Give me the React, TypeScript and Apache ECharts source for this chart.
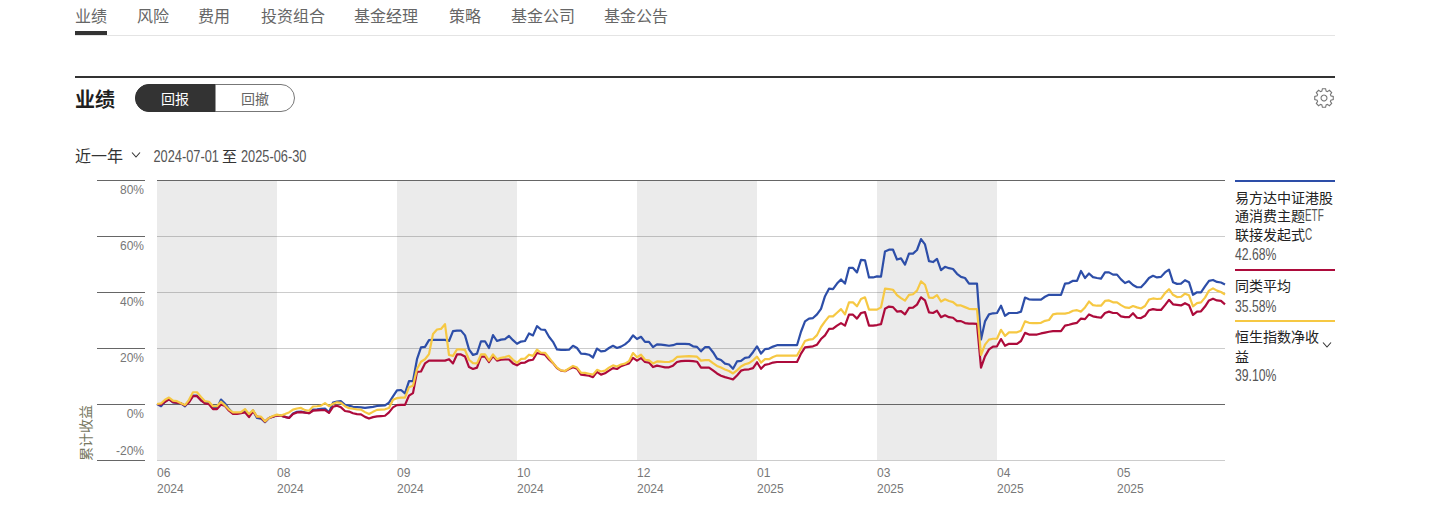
import React, { useEffect, useRef } from "react";
import * as echarts from "echarts";

const navItems = ["业绩", "风险", "费用", "投资组合", "基金经理", "策略", "基金公司", "基金公告"];
const navX = [75, 137, 198, 261, 354, 449, 511, 604];
const monthLabels = ["06", "08", "09", "10", "12", "01", "03", "04", "05"];
const yearLabels = ["2024", "2024", "2024", "2024", "2024", "2025", "2025", "2025", "2025"];
const yTicks = { min: -20, max: 80, interval: 20 };
const bandStarts = [0, 60, 120, 180];
const BAND_LEN = 30;

const fundName = "易方达中证港股通消费主题ETF联接发起式C";
const peerName = "同类平均";
const indexName = "恒生指数净收益";

const fundValues = [
  0,-0.8,0.8,1.8,0.6,0.4,0.2,-0.8,1,3,
  3,1.3,0.5,0.3,-1.5,-1.5,1.6,0.2,-1.8,-3.3,
  -3.3,-3.2,-2.5,-4,-2.3,-5,-5.2,-6.5,-5,-4.5,
  -4,-4.2,-4.6,-5,-3.4,-2.8,-2.7,-3,-3.3,-2,
  -1.9,-1.7,-1.6,-3,0.5,0.9,1,-0.3,-0.6,-1,
  -1.1,-1.2,-1.4,-1.2,-1,-0.7,-0.6,-0.5,0.5,2.7,
  4.9,5,3.8,8.2,8.2,16,20.2,20.4,22.8,22.9,
  22.9,22.9,22.9,22.5,26,26.2,26.2,24.5,19.5,17.5,
  18,22.4,22.4,20,24.6,22.5,23,23.2,24.3,22.8,
  21.5,22.3,22.5,25.2,24.5,27.8,26.6,26.5,24,22.2,
  19.5,19.3,19.3,19.4,20.8,20,18,17.9,17.6,16.6,
  19.8,18.8,19,20,20.8,20,20.5,21.3,22.5,24.5,
  23.2,24,22.2,22.2,20.3,21.3,21.2,21,20.8,21,
  21.5,21.5,21.5,21.4,20.6,20.4,18.8,20.3,20.3,18.5,
  16.2,15.7,14.4,14.1,12.6,15.2,15.4,16.5,16.7,18.5,
  20.6,18,19.6,19.8,20.5,21,21,21,21,21,
  21,25.8,29.5,30.5,30.7,32,34,38.5,41.2,41,
  43,44.5,43,48.6,48.6,47,51.5,51.3,45.2,45.2,
  45.6,45.5,54.5,55.1,55.1,51.6,52,49.8,53.7,53.7,
  55,58.9,57,51,50.7,51.8,47.8,49,48.5,48.2,
  46.5,45.4,45,43,43,43,23,29.5,32,32.4,
  32.5,35.1,31.5,32.5,32.5,32.5,33,38,37.4,37.3,
  37.3,37.3,38.3,39,39,39,39,43,43.2,44,
  44,47.5,45,46.6,45.3,45,44.8,47,47,46.2,
  46.2,44.5,43.2,43.8,42.5,41.7,41.7,43.2,45,45.8,
  45.2,45.4,47,48,43.5,42.9,43,44.2,43.5,39,
  39.9,39.9,42,44,44.3,43.6,43.4,42.68,
];

const peerValues = [
  0,-0.2,0.8,1.7,0.7,0.5,0.2,-0.5,0.6,2.8,
  2.8,1.3,0.2,-0.1,-1.8,-1.8,-0.2,-0.7,-2.4,-3.5,
  -3.5,-3.3,-3,-4.7,-2.6,-4.5,-4.8,-6.3,-5,-4.5,
  -4.1,-4.2,-4.6,-5,-3.6,-3,-2.9,-3.1,-3.3,-2.4,
  -2.3,-2.2,-2.2,-3.2,-1,-0.6,-1.2,-2.5,-2.7,-3.3,
  -3.6,-3.7,-4.6,-5.2,-4.7,-4.4,-4.3,-4.2,-3,-1.2,
  -0.4,-0.3,-0.3,3,3.9,11.5,11.6,14.5,15.5,15.5,
  15.5,15.5,15.5,16,14.5,17.7,17.7,17,13.2,12.5,
  13,16.9,16.9,15,17.1,15.5,15.8,15.9,15.9,14.5,
  13.8,14.7,14.8,15.6,15.8,18.2,17.9,17.6,15.9,14.6,
  12.8,11.9,11.7,12.5,13.1,12.6,10.5,10.3,10.1,9.6,
  11.5,10.5,11,11.9,12.8,12.5,13.5,14,14.5,16.5,
  15.5,16.4,15,14.8,13.2,13.7,13.4,13.1,13.1,13.7,
  15,15.3,15.4,15.4,15.3,15.1,13,13,13,12,
  10.9,10.1,9.6,9.2,8.8,10.2,11.9,12.3,12.4,12.8,
  14.9,12.6,14,14.3,14.8,15,15,15,15,15,
  15,18,20.2,20.4,20.6,21.2,23.2,24.5,26.8,26.9,
  28,28.9,28,31.9,31.9,30.5,32.5,32.8,28,28,
  28.2,28.5,34,34.8,34.6,33,33.2,32,34.3,34.4,
  35.5,38.1,37,32.7,32.5,33.3,31,31.7,31,30.8,
  29.6,29.6,28.9,28.7,28.7,28.6,13,17,19.5,20.5,
  20.6,23.2,20.8,21.5,21.5,21.5,22.5,25.4,24.8,24.8,
  24.8,25.2,25.5,25.8,26,26,26,28,28.3,28.7,
  29,30.5,30.3,32,31.3,31,30.8,32.5,33,32.5,
  32.5,31.3,31,31,32.4,30.8,30.7,31.5,33.5,33.9,
  33.6,33.6,35.3,37.2,35.6,35.4,35.2,36,35.3,31.8,
  33,33.1,34.8,37,37.6,37,36.8,35.58,
];

const indexValues = [
  0,0.2,1.5,2.3,1.2,1,0.3,-0.4,1.5,4.2,
  4.2,2.5,1,0.8,-0.8,-0.8,0.8,-0.5,-2,-3,
  -3,-2.9,-1.8,-3.6,-2.2,-4.5,-4.5,-6.2,-5,-4.3,
  -3.8,-4.1,-3.6,-3,-2,-1.6,-1.4,-2.2,-2.4,-0.9,
  -0.8,-0.6,0.3,-0.8,0.1,0.6,0.4,-0.8,-1.5,-1.7,
  -1.9,-2,-2.9,-3.6,-2.8,-2.1,-2,-1.9,-1.4,1.5,
  2.1,2.3,2.3,6,6.5,12.5,15.1,16,17.8,25,
  26.6,26.8,28.5,17.5,17.2,19.5,19.5,19.3,15.8,14.6,
  14.5,17.7,17.7,15.5,17.7,16,16.5,16.8,17.2,15.8,
  14.7,16.1,16.2,17.6,17.2,19.4,18.3,18.3,16.5,14.7,
  13,12,11.8,12.7,13.6,13,11.2,11.1,10.8,10.5,
  12.2,11.6,11.9,13,13.8,13.4,14.1,14.4,15.3,18.2,
  16.7,17.6,15.8,15.6,14.5,15.2,15.1,15,15,15.5,
  16.8,16.9,17,17.1,17,16.9,15.5,15.7,15.7,14.6,
  13.6,13,12.3,11.8,10.9,12,13.4,14.2,14.6,15.6,
  16.9,14.8,16,16,16.8,17.3,17.3,17.3,17.3,17.3,
  17.3,19.8,22.5,23,23.2,24.6,27.5,29.5,31.3,31.3,
  32.6,33.9,32,36.3,36.3,34.9,37.5,38.1,33.7,33.7,
  33.7,34.5,41.2,41,40.8,38.9,37.8,36.9,39,39.2,
  40.5,43.8,42.6,38,37.9,38.9,36.6,37.4,36.8,36.4,
  35.2,35.2,34.6,34,33.9,33.9,17.5,21.2,23,23.3,
  23.3,26.5,24.3,25.6,25.6,25.6,26.2,29.5,29,28.9,
  28.9,29,29.7,30,32,32.3,32.3,32.3,32.6,33.3,
  33.5,33,34.5,36.6,35.3,35.1,35.1,36.8,37,36.3,
  36.3,35.3,34.5,34.3,35,34.5,34.1,35,37.3,37.7,
  37.5,37.6,39.6,41,39,38.2,38.3,39.4,38.8,34.9,
  36,36.3,38,40.5,41.3,40.5,40,39.1,
];

const BLUE = "#2d4ea8";
const RED = "#ad0b3b";
const YELLOW = "#f6c843";
const LATIN = '"Liberation Sans", sans-serif';
const CJK = '"Noto Sans CJK SC", sans-serif';

function gearPath() {
  const cx = 10, cy = 10, teeth = 8;
  let d = "";
  for (let k = 0; k < teeth; k++) {
    const a = (k * 2 * Math.PI) / teeth;
    const pts: [number, number][] = [[7.2, -0.3], [9.4, -0.17], [9.4, 0.17], [7.2, 0.3]];
    pts.forEach(([r, da], j) => {
      const x = cx + r * Math.cos(a + da), y = cy + r * Math.sin(a + da);
      d += `${k === 0 && j === 0 ? "M" : "L"}${x.toFixed(2)} ${y.toFixed(2)} `;
    });
  }
  return d + "Z";
}
echarts.graphic.registerShape("gear", echarts.graphic.extendPath(gearPath() as any, {} as any));

function txt(x: number, y: number, text: string, size: number, fill: string, extra: any = {}) {
  return {
    type: "text", x, y, originX: 0, originY: 0,
    scaleX: extra.scaleX || 1,
    style: { text, fontSize: size, fill, fontFamily: extra.family || CJK, fontWeight: extra.weight || 400, align: extra.align || "left", verticalAlign: "middle" },
    rotation: extra.rotation || 0, silent: true,
  };
}
function narrow(x: number, y: number, text: string, size: number, fill: string, scaleX: number) {
  return txt(x, y, text, size, fill, { family: LATIN, scaleX });
}
function chevron(x: number, y: number) {
  return { type: "polyline", shape: { points: [[x - 4, y - 2.5], [x, y + 2], [x + 4, y - 2.5]] }, style: { stroke: "#333", lineWidth: 1.1, fill: "none" }, silent: true };
}
function hrect(x: number, y: number, w: number, h: number, fill: string) {
  return { type: "rect", shape: { x, y, width: w, height: h }, style: { fill }, silent: true };
}

const graphics: any[] = [
  ...navItems.map((t, i) => txt(navX[i], 14.5, t, 16, "#666")),
  hrect(75, 35, 1260, 1, "#e4e4e4"),
  hrect(75, 31, 32, 4, "#333"),
  hrect(75, 76, 1260, 2, "#333"),
  txt(75, 98, "业绩", 20, "#1f1f1f", { weight: 700 }),
  { type: "rect", shape: { x: 135.5, y: 84.5, width: 159, height: 27, r: 13.5 }, style: { fill: "#fff", stroke: "#777", lineWidth: 1 }, silent: true },
  { type: "rect", shape: { x: 135.5, y: 84.5, width: 79.5, height: 27, r: [13.5, 0, 0, 13.5] }, style: { fill: "#333", stroke: "#333", lineWidth: 1 }, silent: true },
  txt(175, 97.5, "回报", 14, "#fff", { align: "center" }),
  txt(255, 97.5, "回撤", 14, "#666", { align: "center" }),
  { type: "gear", x: 1314, y: 88, style: { fill: "none", stroke: "#777", lineWidth: 1.1 }, silent: true },
  { type: "circle", shape: { cx: 1324, cy: 98, r: 3 }, style: { fill: "none", stroke: "#777", lineWidth: 1.1 }, silent: true },
  txt(75, 154.5, "近一年", 16, "#333"),
  chevron(136, 155),
  narrow(153.5, 156, "2024-07-01", 16, "#555", 0.8),
  txt(222, 155, "至", 15, "#333"),
  narrow(241, 156, "2025-06-30", 16, "#555", 0.8),
  hrect(1235, 180, 100, 2, BLUE),
  txt(1235, 196.5, "易方达中证港股", 14, "#222"),
  txt(1235, 214.5, "通消费主题", 14, "#222"),
  narrow(1305, 216, "ETF", 16, "#555", 0.62),
  txt(1235, 233.5, "联接发起式", 14, "#222"),
  narrow(1305, 235, "C", 16, "#555", 0.62),
  narrow(1235, 254, "42.68%", 17, "#555", 0.72),
  hrect(1235, 269, 100, 2, RED),
  txt(1235, 284.5, peerName, 14, "#222"),
  narrow(1235, 306, "35.58%", 17, "#555", 0.72),
  hrect(1235, 320, 100, 2, YELLOW),
  txt(1235, 335.5, "恒生指数净收", 14, "#222"),
  txt(1235, 355.5, "益", 14, "#222"),
  narrow(1235, 375, "39.10%", 17, "#555", 0.72),
  chevron(1327, 345),
  txt(85, 433, "累计收益", 14, "#77775f", { rotation: Math.PI / 2, align: "center" }),
];

const indices = fundValues.map((_, i) => String(i));
const axisTextStyle = { fontSize: 12, color: "#777", fontFamily: LATIN };

export default function App() {
  const ref = useRef<HTMLDivElement>(null);
  useEffect(() => {
    document.body.style.margin = "0";
    const chart = echarts.init(ref.current!, null, { renderer: "svg" });
    const lineSeries = (name: string, data: number[], color: string, extra: any = {}) => ({
      name, type: "line", data, xAxisIndex: 0, yAxisIndex: 0, symbol: "none", showSymbol: false,
      smooth: false, lineStyle: { color, width: 2.2, join: "round" }, itemStyle: { color }, z: 3, ...extra,
    });
    const timeAxis = (labels: string[], margin: number) => ({
      gridIndex: 0, type: "category", data: indices, boundaryGap: false, position: "bottom",
      axisLine: { show: false, onZero: false }, axisTick: { show: false }, splitLine: { show: false },
      axisLabel: {
        interval: (i: number) => i % BAND_LEN === 0, align: "left", margin, hideOverlap: false, ...axisTextStyle,
        formatter: (_v: string, i: number) => labels[i / BAND_LEN] ?? "",
      },
    });
    chart.setOption({
      animation: false,
      grid: [
        { left: 157, top: 180, width: 1068, height: 280, containLabel: false },
        { left: 97, top: 180, width: 48, height: 280, containLabel: false },
      ],
      xAxis: [
        timeAxis(monthLabels, 7),
        { gridIndex: 1, type: "value", show: false, min: 0, max: 1 },
        timeAxis(yearLabels, 23),
      ],
      yAxis: [
        {
          gridIndex: 0, type: "value", ...yTicks,
          axisLine: { show: false }, axisTick: { show: false }, axisLabel: { show: false },
          splitLine: { show: true, lineStyle: { color: "#cccccc", width: 1 } },
        },
        {
          gridIndex: 1, type: "value", ...yTicks, position: "right",
          axisLine: { show: false }, axisTick: { show: false },
          splitLine: { show: true, lineStyle: { color: "#666666", width: 1 } },
          axisLabel: {
            inside: true, margin: 1, align: "right", verticalAlign: "top", verticalAlignMinLabel: "bottom",
            padding: [4, 0, 3, 0], ...axisTextStyle,
            formatter: (v: number) => `${v}%`,
          },
        },
      ],
      series: [
        lineSeries(fundName, fundValues, BLUE, {
          markArea: {
            silent: true, z: 1,
            itemStyle: { color: "rgba(0,0,0,0.08)" },
            data: bandStarts.map((s) => [{ xAxis: s }, { xAxis: s + BAND_LEN }]),
          },
          markLine: {
            silent: true, z: 1, symbol: "none", label: { show: false },
            lineStyle: { color: "#666", width: 1, type: "solid" },
            data: [{ yAxis: 0 }, { yAxis: yTicks.max }],
          },
        }),
        lineSeries(peerName, peerValues, RED),
        lineSeries(indexName, indexValues, YELLOW),
      ],
      graphic: graphics,
    });
    return () => chart.dispose();
  }, []);
  return <div ref={ref} style={{ position: "absolute", left: 0, top: 0, width: 1446, height: 521 }} />;
}
